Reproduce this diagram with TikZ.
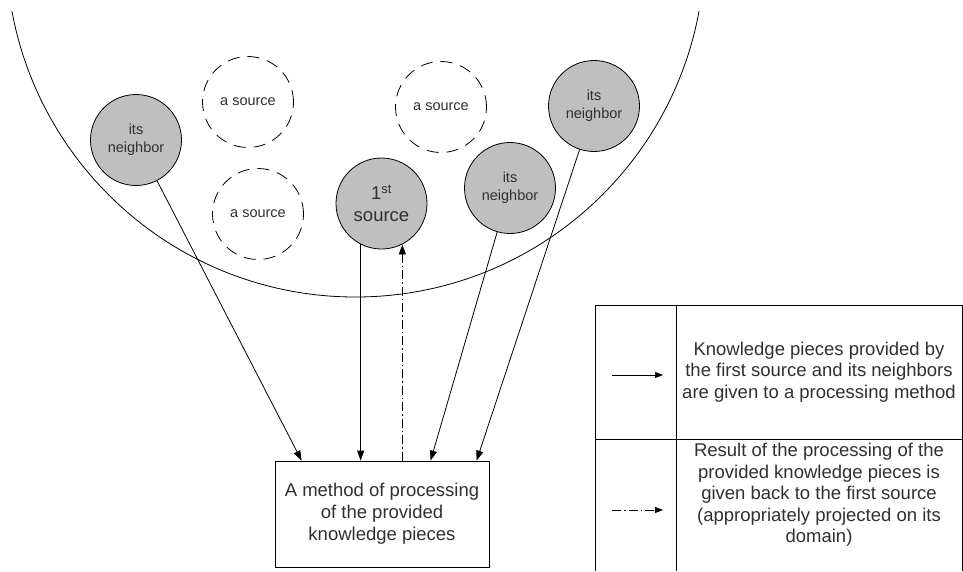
\documentclass[tikz,border=0pt]{standalone}
\usepackage{fontspec}
\setmainfont{Liberation Sans}
\usetikzlibrary{arrows.meta, calc}

\definecolor{inkgray}{HTML}{303030}

\begin{document}
\begin{tikzpicture}[x=1pt, y=-1pt, >={Triangle[length=10pt, width=7pt]},
    line width=0.8pt,
    member/.style={circle, draw, fill=gray!50, minimum size=91pt, inner sep=0pt,
      align=center, text=inkgray, font=\fontsize{14.5}{18}\selectfont},
    candidate/.style={member, fill=none, dash pattern=on 12pt off 8pt},
    methodbox/.style={draw, minimum width=214pt, minimum height=106pt, align=center,
      text=inkgray, font=\fontsize{18.5}{22}\selectfont},
    legtext/.style={align=center, text=inkgray, font=\fontsize{18.5}{21.5}\selectfont},
    backflow/.style={->, dash pattern=on 9pt off 3pt on 1.5pt off 3pt},
    keytip/.style={>={Triangle[length=8pt, width=6pt]}}]
      \useasboundingbox (0,0) rectangle (963,571);

      % Domain of the sources
      \begin{scope}
        \clip (0,11) rectangle (963,571);
        \draw (355.5,-52.3) circle (349.3);
      \end{scope}

      % Sources
      \node[member] (nbL) at (136,140) {its\\neighbor};
      \node[candidate] (srcA) at (248,102) {a source};
      \node[candidate] (srcB) at (258,214) {a source};
      \node[candidate] (srcC) at (441,107) {a source};
      \node[member, font=\fontsize{18.5}{22}\selectfont] (first) at (381.5,203.5)
        {1\textsuperscript{st}\\source};
      \node[member] (nbM) at (510,188) {its\\neighbor};
      \node[member] (nbR) at (594,106) {its\\neighbor};

      % Processing method
      \node[methodbox] (method) at (382,514)
        {A method of processing\\of the provided\\knowledge pieces};

      \coordinate (inL) at ($(method.north west)+(27,0)$);
      \coordinate (inF) at ($(method.north west)+(86,0)$);
      \coordinate (inM) at ($(method.north west)+(156,0)$);
      \coordinate (inR) at ($(method.north west)+(202,0)$);

      % Knowledge pieces given to the method
      \draw[->] (nbL) -- (inL);
      \draw[->] (first.-117) -- (first.-117 |- inF);
      \draw[->] (nbM) -- (inM);
      \draw[->] (nbR) -- (inR);

      % Result given back
      \draw[backflow] (first.-63 |- method.north) -- (first.-63);

      % Legend
      \draw (595,571) -- (595,305) -- (962,305) -- (962,571);
      \draw (676,305) -- (676,571);
      \draw (595,439) -- (962,439);

      \coordinate (keyA1) at (612,375);
      \coordinate (keyA2) at (663,375);
      \coordinate (keyB1) at (612,510);
      \coordinate (keyB2) at (663,510);
      \draw[->, keytip] (keyA1) -- (keyA2);
      \draw[backflow, keytip] (keyB1) -- (keyB2);

      \node[legtext] (legA) at (819,372)
        {Knowledge pieces provided by\\the first source and its neighbors\\are given to a processing method};
      \node[legtext] (legB) at (819,495)
        {Result of the processing of the\\provided knowledge pieces is\\given back to the first source\\(appropriately projected on its\\domain)};

    \end{tikzpicture}
\end{document}
